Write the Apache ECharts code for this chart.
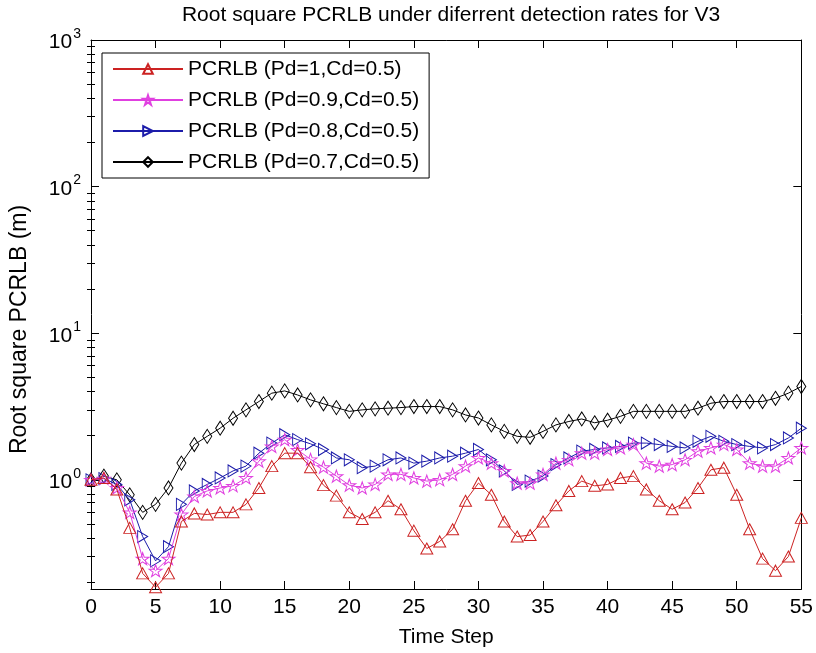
<!DOCTYPE html>
<html><head><meta charset="utf-8">
<script src="https://cdn.jsdelivr.net/npm/echarts@6/dist/echarts.min.js"></script>
<style>html,body{margin:0;padding:0;background:#fff}#c{width:816px;height:653px}</style>
</head><body><div id="c"></div>
<script>
const titleText = 'Root square PCRLB under diferrent detection rates for V3';
const xName = 'Time Step';
const yName = 'Root square PCRLB (m)';
const timeSteps = [0,1,2,3,4,5,6,7,8,9,10,11,12,13,14,15,16,17,18,19,20,21,22,23,24,25,26,27,28,29,30,31,32,33,34,35,36,37,38,39,40,41,42,43,44,45,46,47,48,49,50,51,52,53,54,55];
const seriesNames = ['PCRLB (Pd=1,Cd=0.5)','PCRLB (Pd=0.9,Cd=0.5)','PCRLB (Pd=0.8,Cd=0.5)','PCRLB (Pd=0.7,Cd=0.5)'];
const pd10 = [1.0,1.03,0.86,0.47,0.23,0.185,0.23,0.52,0.59,0.58,0.6,0.6,0.68,0.88,1.24,1.52,1.52,1.22,0.92,0.78,0.6,0.54,0.6,0.72,0.63,0.45,0.34,0.38,0.46,0.72,0.95,0.79,0.52,0.41,0.42,0.52,0.67,0.84,0.98,0.91,0.93,1.03,1.06,0.86,0.72,0.63,0.70,0.88,1.17,1.21,0.79,0.46,0.29,0.24,0.30,0.55];
const pd09 = [1.0,1.02,0.88,0.6,0.29,0.24,0.29,0.58,0.77,0.84,0.88,0.91,1.03,1.34,1.69,1.88,1.6,1.38,1.22,1.06,0.92,0.88,0.93,1.09,1.09,1.03,0.98,1.0,1.09,1.24,1.41,1.30,1.15,0.95,0.95,1.09,1.3,1.37,1.52,1.52,1.61,1.65,1.74,1.30,1.24,1.27,1.37,1.57,1.65,1.74,1.61,1.30,1.24,1.24,1.41,1.65];
const pd08 = [1.0,1.02,0.93,0.73,0.41,0.28,0.35,0.68,0.84,0.93,1.03,1.15,1.24,1.52,1.78,2.03,1.88,1.76,1.61,1.41,1.37,1.21,1.24,1.37,1.41,1.30,1.34,1.41,1.45,1.52,1.61,1.37,1.15,0.93,0.98,1.06,1.27,1.41,1.57,1.61,1.65,1.69,1.78,1.78,1.74,1.69,1.65,1.83,1.98,1.83,1.74,1.69,1.65,1.74,1.93,2.25];
const pd07 = [1.0,1.06,1.0,0.79,0.6,0.68,0.88,1.3,1.74,1.98,2.25,2.63,3.0,3.42,3.9,4.04,3.79,3.51,3.3,3.11,2.93,3.0,3.05,3.08,3.11,3.16,3.16,3.16,3.0,2.77,2.64,2.37,2.14,1.98,1.95,2.14,2.37,2.5,2.6,2.45,2.55,2.71,2.93,2.93,2.93,2.93,2.93,3.08,3.33,3.42,3.42,3.42,3.42,3.6,3.9,4.33];
const yMin = 0.18, yMax = 1000;
const yMinorTicks = [0.2,0.3,0.4,0.5,0.6,0.7,0.8,0.9,2,3,4,5,6,7,8,9,20,30,40,50,60,70,80,90,200,300,400,500,600,700,800,900];

const FONT = "'Liberation Sans',Arial,sans-serif";
const FS = 21;
const colors = ['#cc2222','#e040e0','#1c1caa','#000000'];
const STAR = 'path://M6,0 L7.4,4.2 L11.8,4.2 L8.2,6.8 L9.6,11 L6,8.4 L2.4,11 L3.8,6.8 L0.2,4.2 L4.6,4.2 Z';
const symbols = ['triangle', STAR, 'triangle', 'diamond'];
const symbolSizes = [[12,11],[13,12],[12,10],[9,14]];
const rotates = [0,0,-90,0];
const dataSets = [pd10, pd09, pd08, pd07];

function pair(vals){ return timeSteps.map((t,i)=>[t, vals[i]]); }

const chart = echarts.init(document.getElementById('c'), null, {renderer:'canvas'});
const yLabelFmt = function(v){
  const e = Math.log10(v);
  const r = Math.round(e);
  if (Math.abs(e - r) > 1e-6) return '';
  return '{b|10}{s|' + r + '}';
};
const axisCommon = {
  axisLine:{show:true, onZero:false, lineStyle:{color:'#000', width:1}},
  axisTick:{show:true, inside:true, length:8, lineStyle:{color:'#000', width:1}},
  splitLine:{show:false}
};
const minorAxis = function(pos){
  return {type:'value', min:Math.log10(yMin), max:Math.log10(yMax), position:pos,
    axisLine:{show:false}, axisLabel:{show:false}, splitLine:{show:false},
    axisTick:{show:true, inside:true, length:4, lineStyle:{color:'#000', width:1},
      customValues: yMinorTicks.map(v=>Math.log10(v))}};
};
const option = {
  animation:false,
  backgroundColor:'#fff',
  title:{text:titleText, left:446, top:0, textAlign:'center',
    textStyle:{fontFamily:FONT, fontSize:FS, fontWeight:'normal', color:'#000'}},
  grid:{left:90, right:14, top:40, bottom:61, containLabel:false},
  legend:{data:seriesNames, left:102, top:53, orient:'vertical', backgroundColor:'#fff',
    borderColor:'#000', borderWidth:1, borderRadius:0, padding:[4,10,4,10],
    itemWidth:70, itemHeight:12, itemGap:7, selectedMode:false,
    textStyle:{fontFamily:FONT, fontSize:FS, color:'#000', lineHeight:24}},
  xAxis:[
    Object.assign({type:'value', min:0, max:55, interval:5, position:'bottom',
      axisLabel:{fontFamily:FONT, fontSize:FS, color:'#000', margin:8},
      name:xName, nameLocation:'middle', nameGap:38,
      nameTextStyle:{fontFamily:FONT, fontSize:FS, color:'#000'}}, axisCommon),
    Object.assign({type:'value', min:0, max:55, interval:5, position:'top',
      axisLabel:{show:false}}, axisCommon)
  ],
  yAxis:[
    Object.assign({type:'log', logBase:10, min:yMin, max:yMax, position:'left',
      axisLabel:{formatter:yLabelFmt, margin:10, color:'#000',
        rich:{b:{fontFamily:FONT, fontSize:FS, color:'#000', lineHeight:26, verticalAlign:'bottom'},
              s:{fontFamily:FONT, fontSize:14, color:'#000', lineHeight:26, verticalAlign:'top', padding:[0,0,0,1]}}},
      name:yName, nameLocation:'middle', nameGap:60, nameRotate:90,
      nameTextStyle:{fontFamily:FONT, fontSize:23, color:'#000', padding:[0,30,0,0]}}, axisCommon),
    Object.assign({type:'log', logBase:10, min:yMin, max:yMax, position:'right',
      axisLabel:{show:false}}, axisCommon),
    minorAxis('left'),
    minorAxis('right')
  ],
  series: dataSets.map((d,i)=>({
    name:seriesNames[i], type:'line', xAxisIndex:0, yAxisIndex:0,
    data:pair(d), symbol:symbols[i], symbolSize:symbolSizes[i], symbolRotate:rotates[i],
    showAllSymbol:true, showSymbol:true,
    itemStyle:{color:'rgba(255,255,255,0)', borderColor:colors[i], borderWidth:1},
    lineStyle:{color:colors[i], width:1},
    emphasis:{disabled:true}, z:10-i
  }))
};
chart.setOption(option);
</script></body></html>
